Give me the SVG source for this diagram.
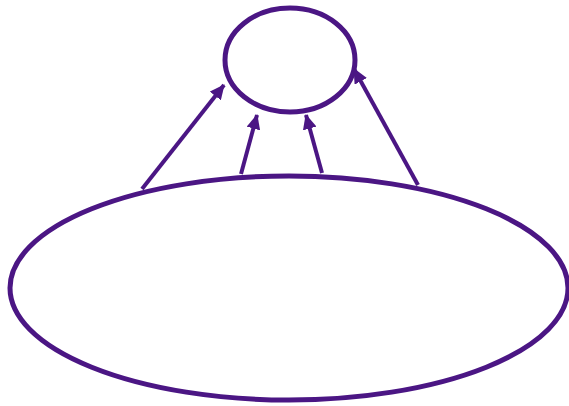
<svg xmlns="http://www.w3.org/2000/svg" width="569" height="406" viewBox="0 0 569 406">
<style>
.node{fill:#fff;stroke:#4b1684;stroke-width:5}
.edge{stroke:#4b1684;stroke-width:4;fill:none}
</style>
<defs>
<marker id="ah" viewBox="0 0 15 14" refX="14" refY="7" markerWidth="15" markerHeight="14" orient="auto" markerUnits="userSpaceOnUse">
<path d="M0,0 L15,7 L0,14 Z" fill="#4b1684"/>
</marker>
</defs>
<g id="top"><ellipse class="node" cx="290" cy="60" rx="65" ry="52"/></g>
<g id="bottom"><ellipse class="node" cx="289" cy="288" rx="279" ry="112"/></g>
<g id="edges">
<line class="edge" x1="142" y1="189" x2="224" y2="85" marker-end="url(#ah)"/>
<line class="edge" x1="241" y1="174" x2="257" y2="115" marker-end="url(#ah)"/>
<line class="edge" x1="322" y1="173" x2="306" y2="115" marker-end="url(#ah)"/>
<line class="edge" x1="418" y1="185" x2="354" y2="69" marker-end="url(#ah)"/>
</g>
</svg>
